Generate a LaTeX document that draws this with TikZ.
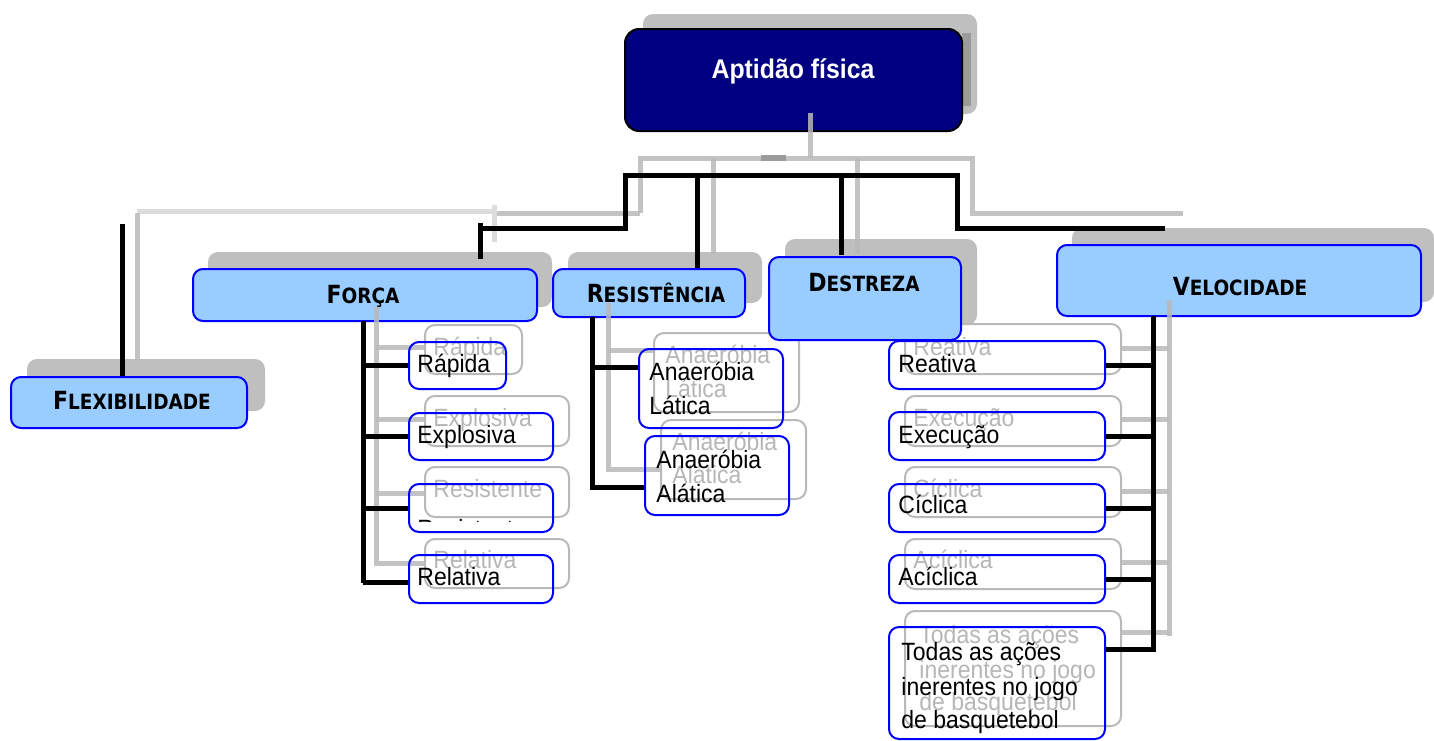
\documentclass[tikz,border=0pt]{standalone}
\usepackage{fontspec}
\setmainfont{Liberation Sans}[FakeStretch=0.92]
\newfontfamily\labfont{DejaVu Sans}[FakeStretch=0.88]
\usetikzlibrary{fit,calc}
\definecolor{shad}{RGB}{191,191,191}
\definecolor{lblue}{RGB}{153,204,255}
\definecolor{bblue}{RGB}{0,0,255}
\definecolor{navyc}{RGB}{0,0,128}
\definecolor{gline}{RGB}{185,185,185}
\definecolor{lline}{RGB}{220,220,220}
\definecolor{gtext}{RGB}{182,182,182}
\definecolor{dshad}{RGB}{155,155,155}
\newcommand\smc[2]{{\labfont\bfseries\fontsize{12.5}{14}\selectfont #1\fontsize{10.5}{12}\selectfont #2}}
\begin{document}
\begin{tikzpicture}[x=0.5pt,y=-0.5pt,line join=miter,
 shadowbox/.style={fill=shad, draw=none, rounded corners=5pt, inner sep=0pt},
 catbox/.style={fill=lblue, draw=bblue, line width=1pt, rounded corners=5pt, inner sep=0pt},
 rootbox/.style={fill=navyc, draw=black, line width=1pt, rounded corners=7pt, inner sep=0pt},
 ghostbox/.style={draw=gline, line width=1pt, rounded corners=5pt, inner sep=0pt},
 leafbox/.style={draw=bblue, line width=1pt, rounded corners=5pt, inner sep=0pt},
 blk/.style={line width=2.5pt, black},
 gry/.style={line width=2.5pt, gline, opacity=0.85},
 lgry/.style={line width=2.5pt, lline},
 cat/.style={anchor=base, inner sep=0pt},
 txt/.style={anchor=base west, inner sep=0pt, font=\fontsize{12.5}{15}\selectfont},
 gtxt/.style={txt, text=gtext},
]
\useasboundingbox (0,0) rectangle (1434,740);

% ---------- shadow layer ----------
\node[shadowbox, fit={(643,14)(977,114)}] (rootS) {};
\fill[dshad] (962,33) rectangle (971,106);
\node[shadowbox, fit={(27,359)(265,411)}] (flexS) {};
\node[shadowbox, fit={(208,252)(552,307)}] (forcaS) {};
\node[shadowbox, fit={(568,252)(762,303)}] (resS) {};
\node[shadowbox, fit={(785,239)(977,325)}] (desS) {};
\node[shadowbox, fit={(1072,228)(1434,302)}] (velS) {};

% ghost leaf boxes
\node[ghostbox, fit={(425,325)(522,374)}] (rapG) {};
\node[ghostbox, fit={(425,396)(569,446)}] (expG) {};
\node[ghostbox, fit={(425,467)(569,517)}] (resiG) {};
\node[ghostbox, fit={(425,539)(569,588)}] (relG) {};
\node[ghostbox, fit={(654,333)(799,412)}] (latG) {};
\node[ghostbox, fit={(661,420)(806,499)}] (alatG) {};
\node[ghostbox, fit={(905,324)(1121,374)}] (reaG) {};
\node[ghostbox, fit={(905,396)(1121,446)}] (exeG) {};
\node[ghostbox, fit={(905,467)(1121,517)}] (cicG) {};
\node[ghostbox, fit={(905,539)(1121,589)}] (aciG) {};
\node[ghostbox, fit={(905,611)(1121,726)}] (todG) {};

% ghost texts
\node[gtxt] (rapGT) at (433,355) {Rápida};
\node[gtxt] (expGT) at (433,426) {Explosiva};
\node[gtxt] (resiGT) at (433,497) {Resistente};
\node[gtxt] (relGT) at (433,568) {Relativa};
\node[gtxt] (latGT1) at (665,363) {Anaeróbia};
\node[gtxt] (latGT2) at (665,397) {Lática};
\node[gtxt] (alatGT1) at (672,450) {Anaeróbia};
\node[gtxt] (alatGT2) at (672,483) {Alática};
\node[gtxt] (reaGT) at (913,355) {Reativa};
\node[gtxt] (exeGT) at (913,426) {Execução};
\node[gtxt] (cicGT) at (913,497) {Cíclica};
\node[gtxt] (aciGT) at (913,568) {Acíclica};
\node[gtxt] (todGT1) at (919,643) {Todas as ações};
\node[gtxt] (todGT2) at (919,678) {inerentes no jogo};
\node[gtxt] (todGT3) at (919,710) {de basquetebol};

% ---------- main category boxes ----------
\node[rootbox, fit={(625,29)(962,131)}] (root) {};
\node[cat, text=white, font=\bfseries\fontsize{13.5}{16}\selectfont] (rootT) at (793,78) {Aptidão física};
\node[catbox, fit={(11,377)(247,428)}] (flex) {};
\node[catbox, fit={(193,269)(537,321)}] (forca) {};
\node[catbox, fit={(553,269)(745,317)}] (res) {};
\node[catbox, fit={(769,257)(961,340)}] (des) {};
\node[catbox, fit={(1057,245)(1421,316)}] (vel) {};
\node[cat] (flexT) at (132,409) {\smc{F}{LEXIBILIDADE}};
\node[cat] (forcaT) at (363,303) {\smc{F}{ORÇA}};
\node[cat] (resT) at (656,302) {\smc{R}{ESISTÊNCIA}};
\node[cat] (desT) at (864,291) {\smc{D}{ESTREZA}};
\node[cat] (velT) at (1240,295) {\smc{V}{ELOCIDADE}};

% ---------- ghost connectors ----------
\coordinate (gTop) at (810,158);
\draw[gry] (810,113) -- (gTop);
\draw[gry] (640,213) -- (640,158) -- (972,158) -- (972,213) -- (1183,213);
\draw[gry] (494,213) -- (640,213);
\draw[lgry] (137,211) -- (494,211);
\draw[lgry] (494,205) -- (494,242);
\draw[gry] (137,213) -- (137,360);
\draw[gry] (713,158) -- (713,254);
\draw[gry] (857,158) -- (857,254);
\fill[dshad] (761,155) rectangle (786,161);
% Forca ghost
\coordinate (fSp) at (376,307);
\draw[gry] (fSp) |- (relG.west);
\draw[gry] ($(rapG.west)+(0,-2)$) -- ($(rapG.west -| fSp)+(0,-2)$);
\draw[gry] ($(expG.west)+(0,-2)$) -- ($(expG.west -| fSp)+(0,-2)$);
\draw[gry] ($(resiG.west)+(0,1)$) -- ($(resiG.west -| fSp)+(0,1)$);
% Resistencia ghost
\coordinate (rSp) at (608,303);
\draw[gry] (rSp) -- ($(rSp |- alatG.west)+(0,10)$) -- ($(alatG.west)+(0,10)$);
\draw[gry] ($(latG.west)+(0,-22)$) -- ($(latG.west -| rSp)+(0,-22)$);
% Velocidade ghost
\coordinate (vSp) at (1169,300);
\draw[gry] (vSp) -- (1169,636);
\draw[gry] ($(reaG.east)+(0,-1)$) -- ($(reaG.east -| vSp)+(0,-1)$);
\draw[gry] ($(exeG.east)+(0,-2)$) -- ($(exeG.east -| vSp)+(0,-2)$);
\draw[gry] ($(cicG.east)+(0,-1)$) -- ($(cicG.east -| vSp)+(0,-1)$);
\draw[gry] ($(aciG.east)+(0,-2)$) -- ($(aciG.east -| vSp)+(0,-2)$);
\draw[gry] ($(todG.north east)+(0,22)$) -- ($(todG.north east -| vSp)+(0,22)$);

% ---------- main connectors ----------
\draw[blk] (480,259) -- (480,223);
\draw[blk] (478,228) -- (625,228) -- (625,175) -- (957,175) -- (957,228) -- (1165,228);
\draw[blk] (697,175) -- (697,268);
\draw[blk] (841,175) -- (841,255);
\coordinate (flexTop) at (122,224);
\draw[blk] (flexTop) -- (flexTop |- flex.north);

% ---------- main leaf boxes ----------
\node[leafbox, fit={(409,342)(506,389)}] (rap) {};
\node[leafbox, fit={(409,413)(553,460)}] (exp) {};
\node[leafbox, fit={(409,484)(553,532)}] (resi) {};
\node[leafbox, fit={(409,555)(553,603)}] (rel) {};
\node[leafbox, fit={(639,349)(783,428)}] (lat) {};
\node[leafbox, fit={(645,436)(789,515)}] (alat) {};
\node[leafbox, fit={(889,341)(1105,389)}] (rea) {};
\node[leafbox, fit={(889,412)(1105,460)}] (exe) {};
\node[leafbox, fit={(889,484)(1105,532)}] (cic) {};
\node[leafbox, fit={(889,555)(1105,603)}] (aci) {};
\node[leafbox, fit={(889,627)(1105,739)}] (tod) {};

% Forca branch
\coordinate (fB) at (363,321);
\draw[blk] (fB) -- (363,583);
\draw[blk] (rap.west) -- (rap.west -| fB);
\draw[blk] (exp.west) -- (exp.west -| fB);
\draw[blk] (resi.west) -- (resi.west -| fB);
\draw[blk] ($(rel.west)+(0,3)$) -- ($(rel.west -| fB)+(0,3)$);
% Resistencia branch
\coordinate (rB) at (592,317);
\draw[blk] (rB) -- (592,490);
\draw[blk] ($(lat.west)+(0,-21)$) -- ($(lat.west -| rB)+(0,-21)$);
\draw[blk] ($(alat.west)+(0,12)$) -- ($(alat.west -| rB)+(0,12)$);
% Velocidade branch
\coordinate (vB) at (1153,316);
\draw[blk] (vB) -- (1153,652);
\draw[blk] (rea.east) -- (rea.east -| vB);
\draw[blk] (exe.east) -- (exe.east -| vB);
\draw[blk] (cic.east) -- (cic.east -| vB);
\draw[blk] (aci.east) -- (aci.east -| vB);
\draw[blk] ($(tod.north east)+(0,23)$) -- ($(tod.north east -| vB)+(0,23)$);

% main texts
\node[txt] (rapT) at (417,372) {Rápida};
\node[txt] (expT) at (417,443) {Explosiva};
\begin{scope}
\clip (409,515) rectangle (553,521);
\node[txt] (resiT) at (417,537) {Resistente};
\end{scope}
\node[txt] (relT) at (417,585) {Relativa};
\node[txt] (latT1) at (649,380) {Anaeróbia};
\node[txt] (latT2) at (649,414) {Lática};
\node[txt] (alatT1) at (656,468) {Anaeróbia};
\node[txt] (alatT2) at (656,502) {Alática};
\node[txt] (reaT) at (898,372) {Reativa};
\node[txt] (exeT) at (898,443) {Execução};
\node[txt] (cicT) at (898,513) {Cíclica};
\node[txt] (aciT) at (898,585) {Acíclica};
\node[txt] (todT1) at (901,660) {Todas as ações};
\node[txt] (todT2) at (901,695) {inerentes no jogo};
\node[txt] (todT3) at (901,728) {de basquetebol};
\end{tikzpicture}
\end{document}
